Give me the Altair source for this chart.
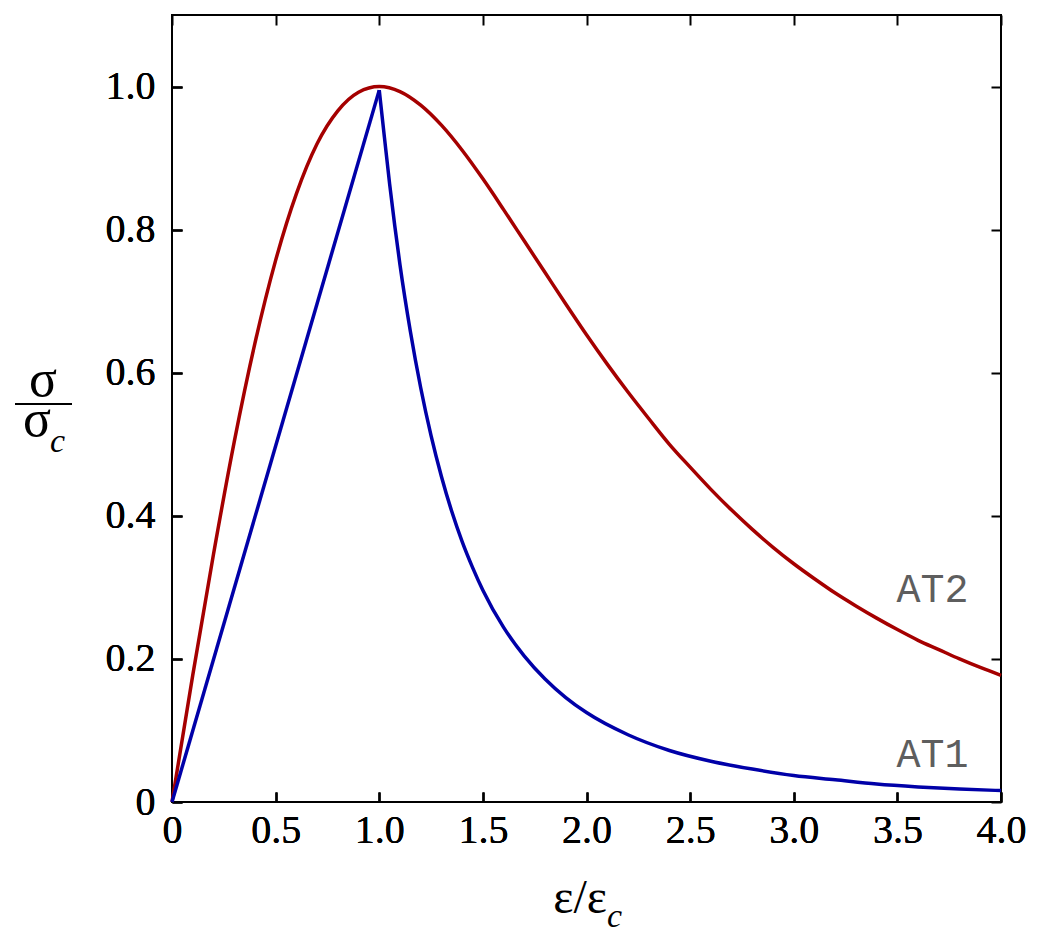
import altair as alt
import pandas as pd

# AT2 curve
at2_x = [0.0, 0.1, 0.2, 0.3, 0.4, 0.5, 0.6, 0.7, 0.8, 0.9, 1.0, 1.1, 1.2, 1.3, 1.4,
         1.5, 1.6, 1.7, 1.8, 1.9, 2.0, 2.1, 2.2, 2.3, 2.4, 2.5, 2.6, 2.7, 2.8, 2.9,
         3.0, 3.1, 3.2, 3.3, 3.4, 3.5, 3.6, 3.7, 3.8, 3.9, 4.0]
at2_y = [0.0, 0.177, 0.346, 0.503, 0.641, 0.757, 0.850, 0.920, 0.966, 0.992, 1.000,
         0.993, 0.974, 0.946, 0.911, 0.871, 0.828, 0.784, 0.740, 0.696, 0.653, 0.612,
         0.573, 0.536, 0.500, 0.468, 0.437, 0.408, 0.381, 0.356, 0.333, 0.312, 0.292,
         0.274, 0.257, 0.241, 0.226, 0.213, 0.200, 0.188, 0.177]

# AT1 curve: linear rise, then decay
at1_rise_x = [0.0, 1.0]
at1_rise_y = [0.0, 0.995]
at1_decay_x = [1.0, 1.025, 1.05, 1.075, 1.1, 1.15, 1.2, 1.25, 1.3, 1.35, 1.4, 1.45, 1.5,
               1.6, 1.7, 1.8, 1.9, 2.0, 2.2, 2.4, 2.6, 2.8, 3.0, 3.2, 3.4, 3.6, 3.8, 4.0]
at1_decay_y = [0.995, 0.929, 0.864, 0.805, 0.751, 0.658, 0.579, 0.512, 0.455, 0.406,
               0.364, 0.328, 0.296, 0.244, 0.204, 0.172, 0.146, 0.125, 0.094, 0.072, 0.057,
               0.046, 0.037, 0.031, 0.025, 0.021, 0.018, 0.016]

x_ticks = [0.0, 0.5, 1.0, 1.5, 2.0, 2.5, 3.0, 3.5, 4.0]
y_ticks = [0.0, 0.2, 0.4, 0.6, 0.8, 1.0]

curve_names = ["AT2", "AT1"]
label_x = [3.67, 3.67]
label_y = [0.279, 0.049]

W, H = 829, 787
RED = "#a50000"
BLUE = "#0000a8"
SERIF = "'Liberation Serif', 'Times New Roman', Times, serif"
MONO = "'Liberation Mono', 'Courier New', Courier, monospace"

df2 = pd.DataFrame({"x": at2_x, "y": at2_y})
df1a = pd.DataFrame({"x": at1_rise_x, "y": at1_rise_y})
df1b = pd.DataFrame({"x": at1_decay_x, "y": at1_decay_y})
dfl = pd.DataFrame({"x": label_x, "y": label_y, "t": curve_names})

xs = alt.Scale(domain=[0, 4], nice=False, zero=False)
ys = alt.Scale(domain=[0, 1.1], nice=False, zero=False)
lab = "datum.value == 0 ? '0' : format(datum.value, '.1f')"

common = dict(domain=False, grid=False, tickColor="black", tickWidth=2,
              tickSize=10, offset=-10, title=None, labelFont=SERIF,
              labelFontSize=40, labelColor="black", labelFlush=False)

ax_bottom = alt.Axis(orient="bottom", values=x_ticks, labelExpr=lab,
                     labelPadding=8, **common)
ax_left = alt.Axis(orient="left", values=y_ticks, labelExpr=lab,
                   labelPadding=17, **common)
ax_top = alt.Axis(orient="top", values=x_ticks, labels=False, **common)
ax_right = alt.Axis(orient="right", values=y_ticks, labels=False, **common)

X = alt.X("x:Q", scale=xs, axis=ax_bottom)
Y = alt.Y("y:Q", scale=ys, axis=ax_left)

line2 = alt.Chart(df2).mark_line(color=RED, strokeWidth=3.5, interpolate="monotone").encode(x=X, y=Y)
line1a = alt.Chart(df1a).mark_line(color=BLUE, strokeWidth=3.5).encode(x=X, y=Y)
line1b = alt.Chart(df1b).mark_line(color=BLUE, strokeWidth=3.5, interpolate="monotone").encode(x=X, y=Y)
labels = alt.Chart(dfl).mark_text(font=MONO, fontSize=40, color="#5e5e5e",
                                  align="center", baseline="alphabetic").encode(
    x=alt.X("x:Q", scale=xs, axis=ax_top),
    y=alt.Y("y:Q", scale=ys, axis=ax_right),
    text="t:N",
)

one = pd.DataFrame({"a": [0]})
# y-axis title: sigma over sigma_c
ylab_top = alt.Chart(one).mark_text(text="σ", font=SERIF, fontSize=52, align="center",
                                    baseline="alphabetic", color="black").encode(
    x=alt.value(-129), y=alt.value(381))
ylab_bar = alt.Chart(one).mark_rule(color="black", strokeWidth=2).encode(
    x=alt.value(-157), x2=alt.value(-100), y=alt.value(389))
ylab_bot = alt.Chart(one).mark_text(text="σ", font=SERIF, fontSize=52, align="center",
                                    baseline="alphabetic", color="black").encode(
    x=alt.value(-135), y=alt.value(421))
ylab_sub = alt.Chart(one).mark_text(text="c", font=SERIF, fontSize=34, fontStyle="italic",
                                    align="left", baseline="alphabetic", color="black").encode(
    x=alt.value(-122), y=alt.value(437))
# x-axis title: epsilon / epsilon_c
xlab_main = alt.Chart(one).mark_text(text="ε/ε", font=SERIF, fontSize=48, align="right",
                                     baseline="alphabetic", color="black").encode(
    x=alt.value(435), y=alt.value(898))
xlab_sub = alt.Chart(one).mark_text(text="c", font=SERIF, fontSize=34, fontStyle="italic",
                                    align="left", baseline="alphabetic", color="black").encode(
    x=alt.value(435), y=alt.value(912))

chart = alt.layer(
    line2, line1a, line1b, labels, ylab_top, ylab_bar, ylab_bot, ylab_sub, xlab_main, xlab_sub
).resolve_axis(x="independent", y="independent").properties(
    width=W, height=H,
    autosize=alt.AutoSizeParams(type="none"),
    padding={"left": 172, "top": 15, "right": 43, "bottom": 138},
    background="white",
).configure_view(stroke="black", strokeWidth=2)

chart.save("out.html", embed_options={"renderer": "svg", "actions": False})
